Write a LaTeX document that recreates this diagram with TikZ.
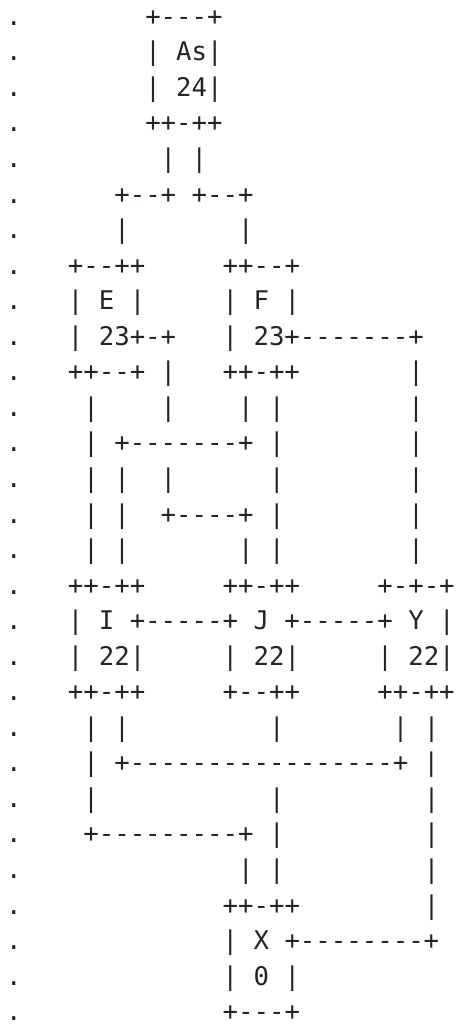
\documentclass[tikz,border=0pt]{standalone}
\usepackage{fontspec}
\setmonofont{DejaVu Sans Mono}
\definecolor{ink}{HTML}{212529}
\begin{document}
\begin{tikzpicture}[x=1pt,y=1pt,
  ln/.style={anchor=base west,inner sep=0pt,outer sep=0pt,text=ink,
    font=\ttfamily\fontsize{25.7}{35.6}\selectfont}]
\useasboundingbox (0,0) rectangle (458,-1025);
\def\lx{6}
\def\ly#1{-25.3-35.55*#1}
\node[ln] (l0)  at (\lx,{\ly{0}})  {.~~~~~~~~+---+};
\node[ln] (l1)  at (\lx,{\ly{1}})  {.~~~~~~~~|~As|};
\node[ln] (l2)  at (\lx,{\ly{2}})  {.~~~~~~~~|~24|};
\node[ln] (l3)  at (\lx,{\ly{3}})  {.~~~~~~~~++-++};
\node[ln] (l4)  at (\lx,{\ly{4}})  {.~~~~~~~~~|~|};
\node[ln] (l5)  at (\lx,{\ly{5}})  {.~~~~~~+--+~+--+};
\node[ln] (l6)  at (\lx,{\ly{6}})  {.~~~~~~|~~~~~~~|};
\node[ln] (l7)  at (\lx,{\ly{7}})  {.~~~+--++~~~~~++--+};
\node[ln] (l8)  at (\lx,{\ly{8}})  {.~~~|~E~|~~~~~|~F~|};
\node[ln] (l9)  at (\lx,{\ly{9}})  {.~~~|~23+-+~~~|~23+-------+};
\node[ln] (l10) at (\lx,{\ly{10}}) {.~~~++--+~|~~~++-++~~~~~~~|};
\node[ln] (l11) at (\lx,{\ly{11}}) {.~~~~|~~~~|~~~~|~|~~~~~~~~|};
\node[ln] (l12) at (\lx,{\ly{12}}) {.~~~~|~+-------+~|~~~~~~~~|};
\node[ln] (l13) at (\lx,{\ly{13}}) {.~~~~|~|~~|~~~~~~|~~~~~~~~|};
\node[ln] (l14) at (\lx,{\ly{14}}) {.~~~~|~|~~+----+~|~~~~~~~~|};
\node[ln] (l15) at (\lx,{\ly{15}}) {.~~~~|~|~~~~~~~|~|~~~~~~~~|};
\node[ln] (l16) at (\lx,{\ly{16}}) {.~~~++-++~~~~~++-++~~~~~+-+-+};
\node[ln] (l17) at (\lx,{\ly{17}}) {.~~~|~I~+-----+~J~+-----+~Y~|};
\node[ln] (l18) at (\lx,{\ly{18}}) {.~~~|~22|~~~~~|~22|~~~~~|~22|};
\node[ln] (l19) at (\lx,{\ly{19}}) {.~~~++-++~~~~~+--++~~~~~++-++};
\node[ln] (l20) at (\lx,{\ly{20}}) {.~~~~|~|~~~~~~~~~|~~~~~~~|~|};
\node[ln] (l21) at (\lx,{\ly{21}}) {.~~~~|~+-----------------+~|};
\node[ln] (l22) at (\lx,{\ly{22}}) {.~~~~|~~~~~~~~~~~|~~~~~~~~~|};
\node[ln] (l23) at (\lx,{\ly{23}}) {.~~~~+---------+~|~~~~~~~~~|};
\node[ln] (l24) at (\lx,{\ly{24}}) {.~~~~~~~~~~~~~~|~|~~~~~~~~~|};
\node[ln] (l25) at (\lx,{\ly{25}}) {.~~~~~~~~~~~~~++-++~~~~~~~~|};
\node[ln] (l26) at (\lx,{\ly{26}}) {.~~~~~~~~~~~~~|~X~+--------+};
\node[ln] (l27) at (\lx,{\ly{27}}) {.~~~~~~~~~~~~~|~0~|};
\node[ln] (l28) at (\lx,{\ly{28}}) {.~~~~~~~~~~~~~+---+};
\end{tikzpicture}
\end{document}
